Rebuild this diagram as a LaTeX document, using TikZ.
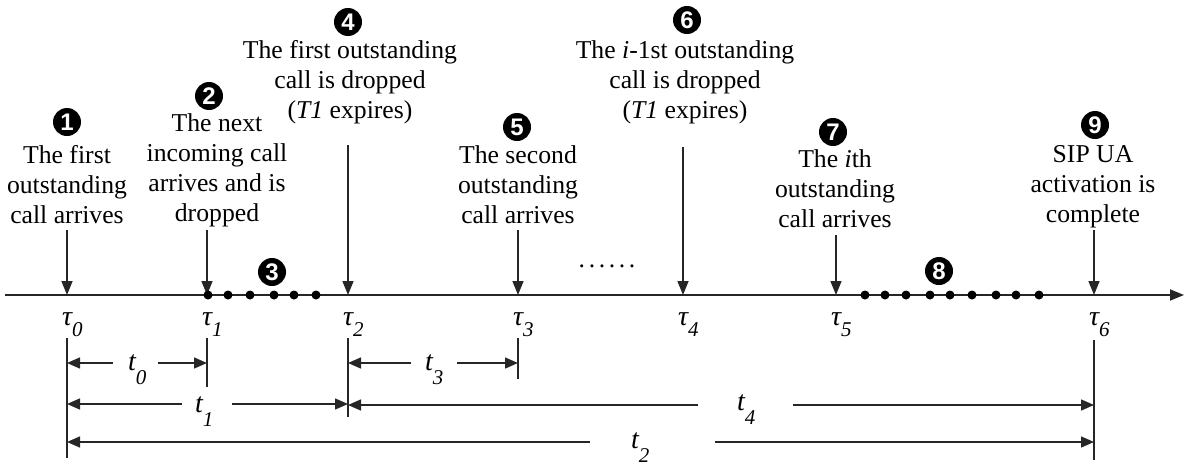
\documentclass[tikz,border=0pt]{standalone}
\usepackage{fontspec}
\setmainfont{Liberation Serif}
\newfontfamily\circfont{Liberation Sans}
\usetikzlibrary{arrows.meta}
\newcommand{\taulab}[1]{{\fontsize{28}{28}\selectfont\itshape τ\raisebox{-11pt}{\fontsize{21}{21}\selectfont\itshape #1}}}
\newcommand{\tlab}[1]{{\fontsize{28}{28}\selectfont\itshape t\raisebox{-14pt}{\fontsize{21}{21}\selectfont\itshape #1}}}
\tikzset{
  axisline/.style={line width=1.8pt, draw=black!85, -{Triangle[length=14pt,width=11pt]}},
  evarrow/.style={line width=1.5pt, draw=black!85, -{Triangle[length=14pt,width=11pt]}},
  tickline/.style={line width=1.5pt, draw=black!85},
  dimtip/.style={line width=1.5pt, draw=black!85, -{Triangle[length=13pt,width=11pt]}},
  dimline/.style={line width=1.5pt, draw=black!85},
  lbl/.style={align=center, font=\fontsize{25.7}{30}\selectfont, inner sep=0pt, anchor=north},
  num/.style={circle, fill=black, inner sep=0pt, minimum size=28pt, text=white,
              font=\circfont\bfseries\fontsize{24}{24}\selectfont},
  dotm/.style={circle, fill=black, inner sep=0pt, minimum size=9pt},
  sym/.style={inner sep=0pt, anchor=base west},
}
\begin{document}
\begin{tikzpicture}[x=1pt,y=-1pt]
\useasboundingbox (0,0) rectangle (1187,466);
% axis
\coordinate (ax0) at (5,295);
\coordinate (ax1) at (1184,295);
\foreach \n/\x in {0/67,1/207,2/348,3/518,4/683,5/836,6/1094}
  \coordinate (T\n) at (\x,295);
\draw[axisline] (ax0) -- (ax1);

% event labels
\node[lbl] (l1) at (67,145) {The first\\outstanding\\call arrives};
\node[lbl] (l2) at (217,113) {The next\\incoming call\\arrives and is\\dropped};
\node[lbl] (l4) at (350,40) {The first outstanding\\call is dropped\\(\textit{T1} expires)};
\node[lbl] (l5) at (518,145) {The second\\outstanding\\call arrives};
\node[lbl] (l6) at (685,40) {The \textit{i}-1st outstanding\\call is dropped\\(\textit{T1} expires)};
\node[lbl] (l7) at (835,149) {The \textit{i}th\\outstanding\\call arrives};
\node[lbl] (l9) at (1093,145) {SIP UA\\activation is\\complete};

\node[num] (c1) at (67,122) {1};
\node[num] (c2) at (209,96) {2};
\node[num] (c3) at (272,272) {3};
\node[num] (c4) at (348,22) {4};
\node[num] (c5) at (517,127) {5};
\node[num] (c6) at (687,20) {6};
\node[num] (c7) at (833,132) {7};
\node[num] (c8) at (939,271) {8};
\node[num] (c9) at (1095,125) {9};

\node[inner sep=0pt, anchor=base, font=\fontsize{25.7}{30}\selectfont] (ell) at (607,267)
  {.\kern3.6pt.\kern3.6pt.\kern3.6pt.\kern3.6pt.\kern3.6pt.};

% event arrows
\coordinate (s0) at (67,230);
\coordinate (s1) at (207,230);
\coordinate (s2) at (348,145);
\coordinate (s3) at (518,230);
\coordinate (s4) at (683,147);
\coordinate (s5) at (836,235);
\coordinate (s6) at (1094,230);
\foreach \n in {0,...,6} \draw[evarrow] (s\n) -- (T\n);

% dots
\foreach \x [count=\i] in {208,228,250,274,294,316}
  \node[dotm] (da\i) at (\x,295) {};
\foreach \x [count=\i] in {865,885,906,930,950,972,996,1016,1039}
  \node[dotm] (db\i) at (\x,295) {};

% tau labels
\node[sym] (tau0) at (62,325) {\taulab{0}};
\node[sym] (tau1) at (202,325) {\taulab{1}};
\node[sym] (tau2) at (343,325) {\taulab{2}};
\node[sym] (tau3) at (513,325) {\taulab{3}};
\node[sym] (tau4) at (678,325) {\taulab{4}};
\node[sym] (tau5) at (831,325) {\taulab{5}};
\node[sym] (tau6) at (1089,325) {\taulab{6}};

% vertical ticks
\coordinate (b0t) at (67,338);   \coordinate (b0b) at (67,458);
\coordinate (b1t) at (207,338);  \coordinate (b1b) at (207,387);
\coordinate (b2t) at (348,338);  \coordinate (b2b) at (348,417);
\coordinate (b3t) at (518,338);  \coordinate (b3b) at (518,379);
\coordinate (b6t) at (1094,340); \coordinate (b6b) at (1094,460);
\foreach \n in {0,1,2,3,6} \draw[tickline] (b\n t) -- (b\n b);

% dimension t0
\coordinate (d0a) at (67,363);  \coordinate (d0b) at (113,363);
\coordinate (d0c) at (158,363); \coordinate (d0d) at (207,363);
\draw[dimtip] (d0b) -- (d0a);
\draw[dimtip] (d0c) -- (d0d);
\node[sym] (tt0) at (128,370) {\tlab{0}};
% dimension t3
\coordinate (d3a) at (348,363); \coordinate (d3b) at (411,363);
\coordinate (d3c) at (457,363); \coordinate (d3d) at (518,363);
\draw[dimtip] (d3b) -- (d3a);
\draw[dimtip] (d3c) -- (d3d);
\node[sym] (tt3) at (425,370) {\tlab{3}};
% dimension t1
\coordinate (d1a) at (67,404);  \coordinate (d1b) at (182,404);
\coordinate (d1c) at (232,404); \coordinate (d1d) at (348,404);
\draw[dimtip] (d1b) -- (d1a);
\draw[dimtip] (d1c) -- (d1d);
\node[sym] (tt1) at (195,412) {\tlab{1}};
% dimension t4
\coordinate (d4a) at (348,405); \coordinate (d4b) at (698,405);
\coordinate (d4c) at (793,405); \coordinate (d4d) at (1094,405);
\draw[dimtip] (d4b) -- (d4a);
\draw[dimtip] (d4c) -- (d4d);
\node[sym] (tt4) at (737,410) {\tlab{4}};
% dimension t2
\coordinate (d2a) at (67,442);  \coordinate (d2b) at (590,442);
\coordinate (d2c) at (715,442); \coordinate (d2d) at (1094,442);
\draw[dimtip] (d2b) -- (d2a);
\draw[dimtip] (d2c) -- (d2d);
\node[sym] (tt2) at (631,448) {\tlab{2}};
\end{tikzpicture}
\end{document}
